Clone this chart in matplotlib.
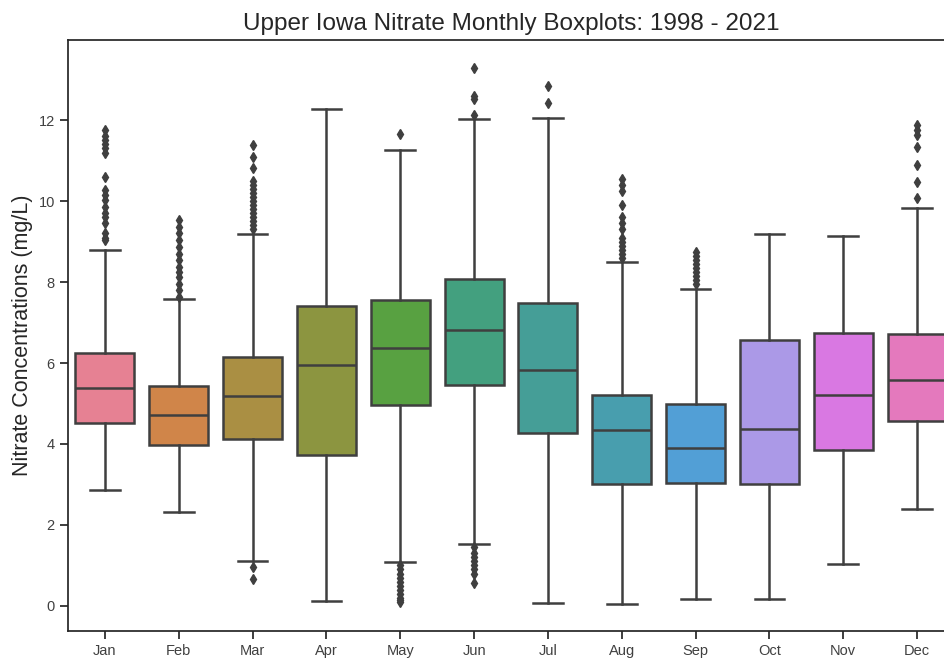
import numpy as np
import matplotlib.pyplot as plt
import seaborn as sns

months = ["Jan", "Feb", "Mar", "Apr", "May", "Jun", "Jul", "Aug", "Sep", "Oct", "Nov", "Dec"]

# box summary values (mg/L)
q1 = [4.53, 3.97, 4.13, 3.74, 4.96, 5.46, 4.27, 3.00, 3.04, 3.02, 3.84, 4.58]
med = [5.39, 4.72, 5.19, 5.96, 6.38, 6.81, 5.84, 4.34, 3.89, 4.36, 5.20, 5.58]
q3 = [6.25, 5.43, 6.16, 7.41, 7.56, 8.07, 7.49, 5.20, 5.00, 6.58, 6.74, 6.72]
whislo = [2.86, 2.31, 1.12, 0.13, 1.08, 1.53, 0.07, 0.04, 0.18, 0.16, 1.04, 2.39]
whishi = [8.80, 7.59, 9.19, 12.27, 11.26, 12.02, 12.06, 8.50, 7.83, 9.19, 9.14, 9.84]

fliers = [
    [9.04, 9.1, 9.2, 9.45, 9.6, 9.7, 9.85, 10.02, 10.15, 10.27, 10.6, 11.18, 11.3, 11.4, 11.51, 11.62, 11.75],
    [7.64, 7.8, 7.95, 8.13, 8.25, 8.38, 8.54, 8.7, 8.87, 9.05, 9.2, 9.35, 9.53],
    [0.67, 0.95, 9.3, 9.4, 9.5, 9.6, 9.7, 9.8, 9.9, 10.0, 10.1, 10.2, 10.3, 10.4, 10.5, 10.82, 11.1, 11.38],
    [],
    [0.1, 0.15, 0.2, 0.3, 0.4, 0.5, 0.6, 0.7, 0.8, 0.9, 1.0, 11.67],
    [0.57, 0.8, 0.9, 1.0, 1.1, 1.2, 1.3, 1.45, 12.12, 12.53, 12.6, 13.29],
    [12.43, 12.84],
    [8.6, 8.7, 8.8, 8.9, 9.0, 9.1, 9.3, 9.45, 9.6, 9.9, 10.25, 10.4, 10.55],
    [7.95, 8.05, 8.15, 8.25, 8.35, 8.45, 8.55, 8.65, 8.75],
    [],
    [],
    [10.07, 10.48, 10.89, 11.34, 11.63, 11.75, 11.88],
]

stats = []
for i in range(len(months)):
    stats.append({"label": months[i], "q1": q1[i], "med": med[i], "q3": q3[i],
                  "whislo": whislo[i], "whishi": whishi[i], "fliers": fliers[i]})

colors = [sns.desaturate(c, 0.75) for c in sns.color_palette("husl", 12)]
gray = "#3f3f3f"

plt.rcParams["font.family"] = ["Liberation Sans", "DejaVu Sans"]
plt.rcParams["text.color"] = ".15"

fig = plt.figure(figsize=(9.45, 6.61), dpi=100)
ax = fig.add_axes([68 / 945, 30 / 661, (954 - 68) / 945, (631 - 40) / 661])

lw = 1.8
bp = ax.bxp(stats, positions=np.arange(12), widths=0.8, patch_artist=True,
            boxprops=dict(edgecolor=gray, linewidth=lw),
            medianprops=dict(color=gray, linewidth=lw),
            whiskerprops=dict(color=gray, linewidth=lw),
            capprops=dict(color=gray, linewidth=lw),
            flierprops=dict(marker="d", markerfacecolor=gray, markeredgecolor=gray,
                            markersize=5.5, linestyle="none"))
for patch, c in zip(bp["boxes"], colors):
    patch.set_facecolor(c)

ax.set_xlim(-0.5, 11.5)
ax.set_ylim(-0.62, 13.98)
ax.set_yticks([0, 2, 4, 6, 8, 10, 12])
ax.set_xticks(np.arange(12))
ax.set_xticklabels(months)

for s in ax.spines.values():
    s.set_color(".15")
    s.set_linewidth(1.25)
ax.tick_params(axis="both", direction="out", length=6, width=1.25, color=".15",
               labelcolor=".25", labelsize=10.5)

ax.set_ylabel("Nitrate Concentrations (mg/L)", fontsize=15.5, color=".15")
ax.set_title("Upper Iowa Nitrate Monthly Boxplots: 1998 - 2021", fontsize=17.5, color=".15", pad=7)

fig.savefig("out.png", dpi=100)
